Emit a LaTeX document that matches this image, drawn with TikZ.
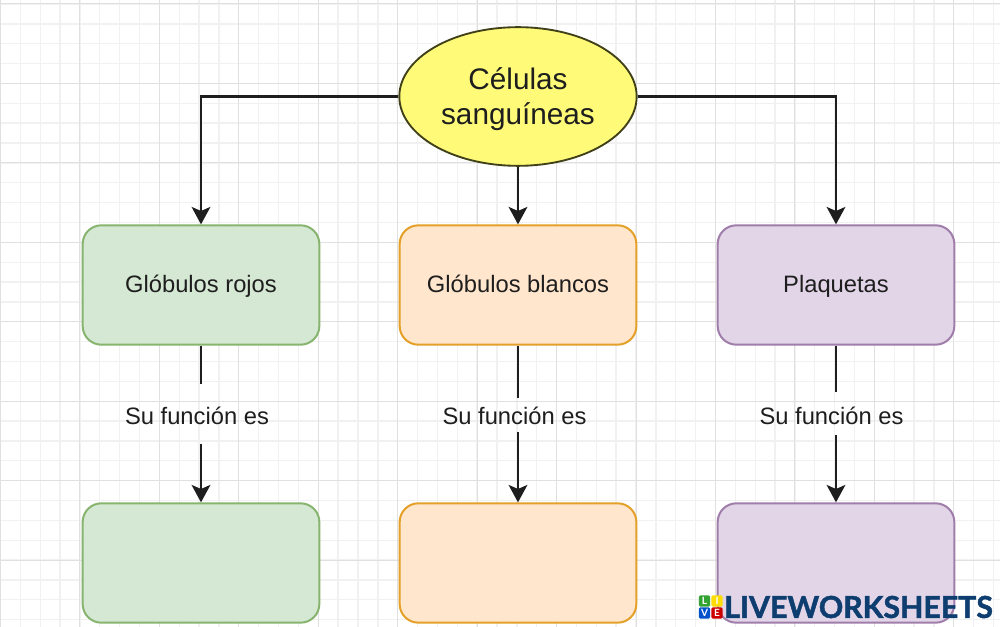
\documentclass[tikz,border=0pt]{standalone}
\usepackage{fontspec}
\setmainfont{Liberation Sans}
\newfontfamily\logofont[BoldFeatures={FakeBold=1.5}]{Lato}
\newfontfamily\squarefont{Lato}
\usetikzlibrary{arrows.meta,shapes.geometric,positioning}
\definecolor{gridminor}{RGB}{241,241,241}
\definecolor{gridmajor}{RGB}{224,224,224}
\definecolor{greenfill}{RGB}{213,232,212}
\definecolor{greenline}{RGB}{135,180,110}
\definecolor{orangefill}{RGB}{255,230,204}
\definecolor{orangeline}{RGB}{228,160,40}
\definecolor{purplefill}{RGB}{225,213,231}
\definecolor{purpleline}{RGB}{160,125,170}
\definecolor{ellfill}{RGB}{255,250,120}
\definecolor{ink}{RGB}{30,30,30}
\definecolor{logoblue}{RGB}{14,62,112}
\tikzset{
  x=0.75pt,y=-0.75pt,
  cellbox/.style={rounded corners=14pt,line width=1.5pt,minimum width=177.5pt,minimum height=89.5pt,inner sep=0pt,font=\fontsize{17.8pt}{20pt}\selectfont,text=ink},
  conn/.style={line width=1.9pt,draw=ink},
  arr/.style={conn,-{Stealth[length=13pt,width=14pt,inset=3pt]}},
  lab/.style={font=\fontsize{17.8pt}{20pt}\selectfont,text=ink,inner sep=0pt},
  logosq/.style={minimum size=8.4pt,inner sep=0pt,rounded corners=1pt,text=white,font=\squarefont\bfseries\fontsize{7.5pt}{8pt}\selectfont},
}
\begin{document}
\begin{tikzpicture}
\useasboundingbox (0,0) rectangle (1000,627);
\fill[white] (0,0) rectangle (1000,627);
\foreach \i in {0,...,50} {
  \draw[gridminor,line width=1pt] ({0.5+19.86*\i},0) -- ({0.5+19.86*\i},627);
  \draw[gridminor,line width=1pt] (0,{4+19.86*\i}) -- (1000,{4+19.86*\i});
}
\foreach \i in {0,...,12} {
  \draw[gridmajor,line width=0.75pt] ({0.5+79.44*\i},0) -- ({0.5+79.44*\i},627);
  \draw[gridmajor,line width=0.75pt] (0,{4+79.44*\i}) -- (1000,{4+79.44*\i});
}
\node[ellipse,draw=ink!85!yellow,fill=ellfill,line width=1.4pt,minimum width=178pt,minimum height=104pt,inner sep=0pt,align=center,font=\fontsize{22.3pt}{26pt}\selectfont,text=ink] (top) at (518,96.5) {\rule{0pt}{20.5pt}Células\\sanguíneas};
\node[cellbox,draw=greenline,fill=greenfill,text height=15pt,text depth=4pt] (g1) at (201,285) {Glóbulos rojos};
\node[cellbox,draw=orangeline,fill=orangefill,text height=15pt,text depth=4pt] (o1) at (518,285) {Glóbulos blancos};
\node[cellbox,draw=purpleline,fill=purplefill,text height=15pt,text depth=4pt] (p1) at (836,285) {Plaquetas};
\node[cellbox,draw=greenline,fill=greenfill] (g2) at (201,563) {};
\node[cellbox,draw=orangeline,fill=orangefill] (o2) at (518,563) {};
\node[cellbox,draw=purpleline,fill=purplefill] (p2) at (836,563) {};
\node[lab] (lg) at (197,416) {Su función es};
\node[lab] (lo) at (514.5,416) {Su función es};
\node[lab] (lp) at (831.5,416) {Su función es};
\coordinate (lgt) at (201,384); \coordinate (lgb) at (201,444);
\coordinate (lot) at (518,398); \coordinate (lob) at (518,432);
\coordinate (lpt) at (836,392); \coordinate (lpb) at (836,435);
\draw[arr] (top.west) -| (g1.north);
\draw[arr] (top.south) -- (o1.north);
\draw[arr] (top.east) -| (p1.north);
\draw[conn] (g1.south) -- (lgt);
\draw[arr] (lgb) -- (g2.north);
\draw[conn] (o1.south) -- (lot);
\draw[arr] (lob) -- (o2.north);
\draw[conn] (p1.south) -- (lpt);
\draw[arr] (lpb) -- (p2.north);
\node[logosq,fill=green!55!black!80!white] (ll) at (704.5,601) {L};
\node[logosq,fill=yellow!80!orange] (li) at (717,601) {I};
\node[logosq,fill=blue!60!cyan!80!black] (lv) at (704.5,613) {V};
\node[logosq,fill=red!80!black] (le) at (717,613) {E};
\node[inner sep=0pt,anchor=west,text=logoblue,font=\logofont\bfseries\fontsize{22.7pt}{24pt}\selectfont] (logo) at (724,607) {LIVEWORKSHEETS};
\end{tikzpicture}
\end{document}
